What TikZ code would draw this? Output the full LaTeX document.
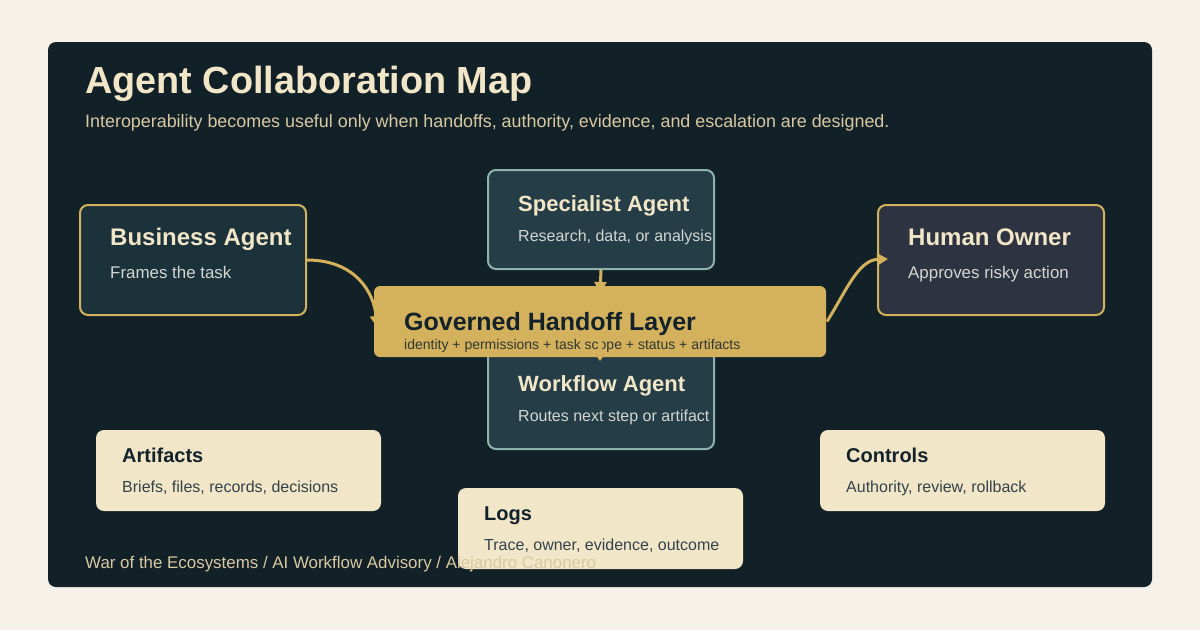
\documentclass[tikz,border=0pt]{standalone}
\usepackage{fontspec}
\setmainfont{Liberation Sans}
\usetikzlibrary{arrows.meta}
\definecolor{pagebg}{HTML}{F6F1E9}
\definecolor{panel}{HTML}{122027}
\definecolor{cream}{HTML}{F2E6C8}
\definecolor{muted}{HTML}{D8C9A3}
\definecolor{gold}{HTML}{D4B15C}
\definecolor{bizfill}{HTML}{1B323B}
\definecolor{specfill}{HTML}{243D46}
\definecolor{specline}{HTML}{8EB3AD}
\definecolor{humfill}{HTML}{2D3340}
\definecolor{lightfill}{HTML}{F1E6C8}
\definecolor{darktext}{HTML}{13222A}
\definecolor{subgrey}{HTML}{D3D6D2}
\definecolor{subdark}{HTML}{34424A}
\tikzset{
  box/.style={rounded corners=8pt, inner sep=0pt, line width=2pt},
  goldbox/.style={box, draw=gold},
  tealbox/.style={box, draw=specline, fill=specfill},
  lightbox/.style={box, fill=lightfill, minimum width=285pt, minimum height=81pt},
  txt/.style={anchor=base west, inner sep=0pt},
  boxtitle/.style={txt, text=cream, font=\bfseries\fontsize{24}{28}\selectfont},
  boxsub/.style={txt, text=subgrey, font=\fontsize{16.9}{20}\selectfont},
  tealtitle/.style={txt, text=cream, font=\bfseries\fontsize{22}{26}\selectfont},
  tealsub/.style={txt, text=subgrey, font=\fontsize{16}{19}\selectfont},
  lighttitle/.style={txt, text=darktext, font=\bfseries\fontsize{20}{24}\selectfont},
  lightsub/.style={txt, text=subdark, font=\fontsize{16}{19}\selectfont},
  conn/.style={draw=gold, line width=3pt, -{Triangle[length=11pt,width=12pt]}},
}
\begin{document}
\begin{tikzpicture}[x=1pt,y=-1pt]
\useasboundingbox (0,0) rectangle (1200,630);
\fill[pagebg] (0,0) rectangle (1200,630);
\fill[panel, rounded corners=8pt] (48,42) rectangle (1152,587);

\node[txt, text=cream, font=\bfseries\fontsize{37.8}{44}\selectfont] (title) at (85,93) {Agent Collaboration Map};
\node[txt, text=muted, font=\fontsize{17.9}{21}\selectfont] (subtitle) at (85,127) {Interoperability becomes useful only when handoffs, authority, evidence, and escalation are designed.};

% agent boxes
\node[goldbox, fill=bizfill, minimum width=226pt, minimum height=110pt] (biz) at (193,260) {};
\node[boxtitle] (biztitle) at (110,245.5) {Business Agent};
\node[boxsub] (bizsub) at (110,278) {Frames the task};

\node[tealbox, minimum width=226pt, minimum height=99pt] (spec) at (601,219.5) {};
\node[tealtitle] (spectitle) at (518,211) {Specialist Agent};
\node[tealsub] (specsub) at (518,241) {Research, data, or analysis};

\node[goldbox, fill=humfill, minimum width=226pt, minimum height=110pt] (human) at (991,260) {};
\node[boxtitle] (humtitle) at (908,245.5) {Human Owner};
\node[boxsub] (humsub) at (908,278) {Approves risky action};

\node[tealbox, minimum width=226pt, minimum height=99pt] (work) at (601,399.5) {};
\node[tealtitle] (worktitle) at (518,391) {Workflow Agent};
\node[tealsub] (worksub) at (518,421) {Routes next step or artifact};

% connectors into/out of layer
\coordinate (layertop) at (600,293);
\coordinate (bizin) at (377,327);
\coordinate (humin) at (888,259);
\draw[conn] (spec.south) -- (layertop);
\draw[conn] (biz.east) .. controls (355,260) and (374,292) .. (bizin);

% governed layer
\node[box, fill=gold, rounded corners=6pt, minimum width=452pt, minimum height=71pt] (layer) at (600,321.5) {};
\node[txt, text=darktext, font=\bfseries\fontsize{25}{30}\selectfont] (layertitle) at (404,330) {Governed Handoff Layer};
\node[txt, text=darktext!85!gold, font=\fontsize{14}{17}\selectfont] (layersub) at (404,349.5) {identity + permissions + task scope + status + artifacts};

\coordinate (layermid) at (600,338);
\coordinate (workin) at (600,361);
\draw[draw=gold, line width=3pt, -{Triangle[length=6pt,width=8pt]}] (layermid) -- (workin);
\draw[conn] (layer.east) .. controls (845,293) and (858,260) .. (humin);

% light boxes
\node[lightbox] (art) at (238.5,470.5) {};
\node[lighttitle] (arttitle) at (122,462) {Artifacts};
\node[lightsub] (artsub) at (122,492.5) {Briefs, files, records, decisions};

\node[lightbox] (ctrl) at (962.5,470.5) {};
\node[lighttitle] (ctrltitle) at (846,462) {Controls};
\node[lightsub] (ctrlsub) at (846,492.5) {Authority, review, rollback};

\node[lightbox] (logs) at (600.5,528.5) {};
\node[lighttitle] (logstitle) at (484,520) {Logs};
\node[lightsub] (logssub) at (484,550.5) {Trace, owner, evidence, outcome};

\node[txt, text=muted, font=\fontsize{16.9}{20}\selectfont] (footer) at (85,568.5) {War of the Ecosystems / AI Workflow Advisory / Alejandro Canonero};
\end{tikzpicture}
\end{document}
